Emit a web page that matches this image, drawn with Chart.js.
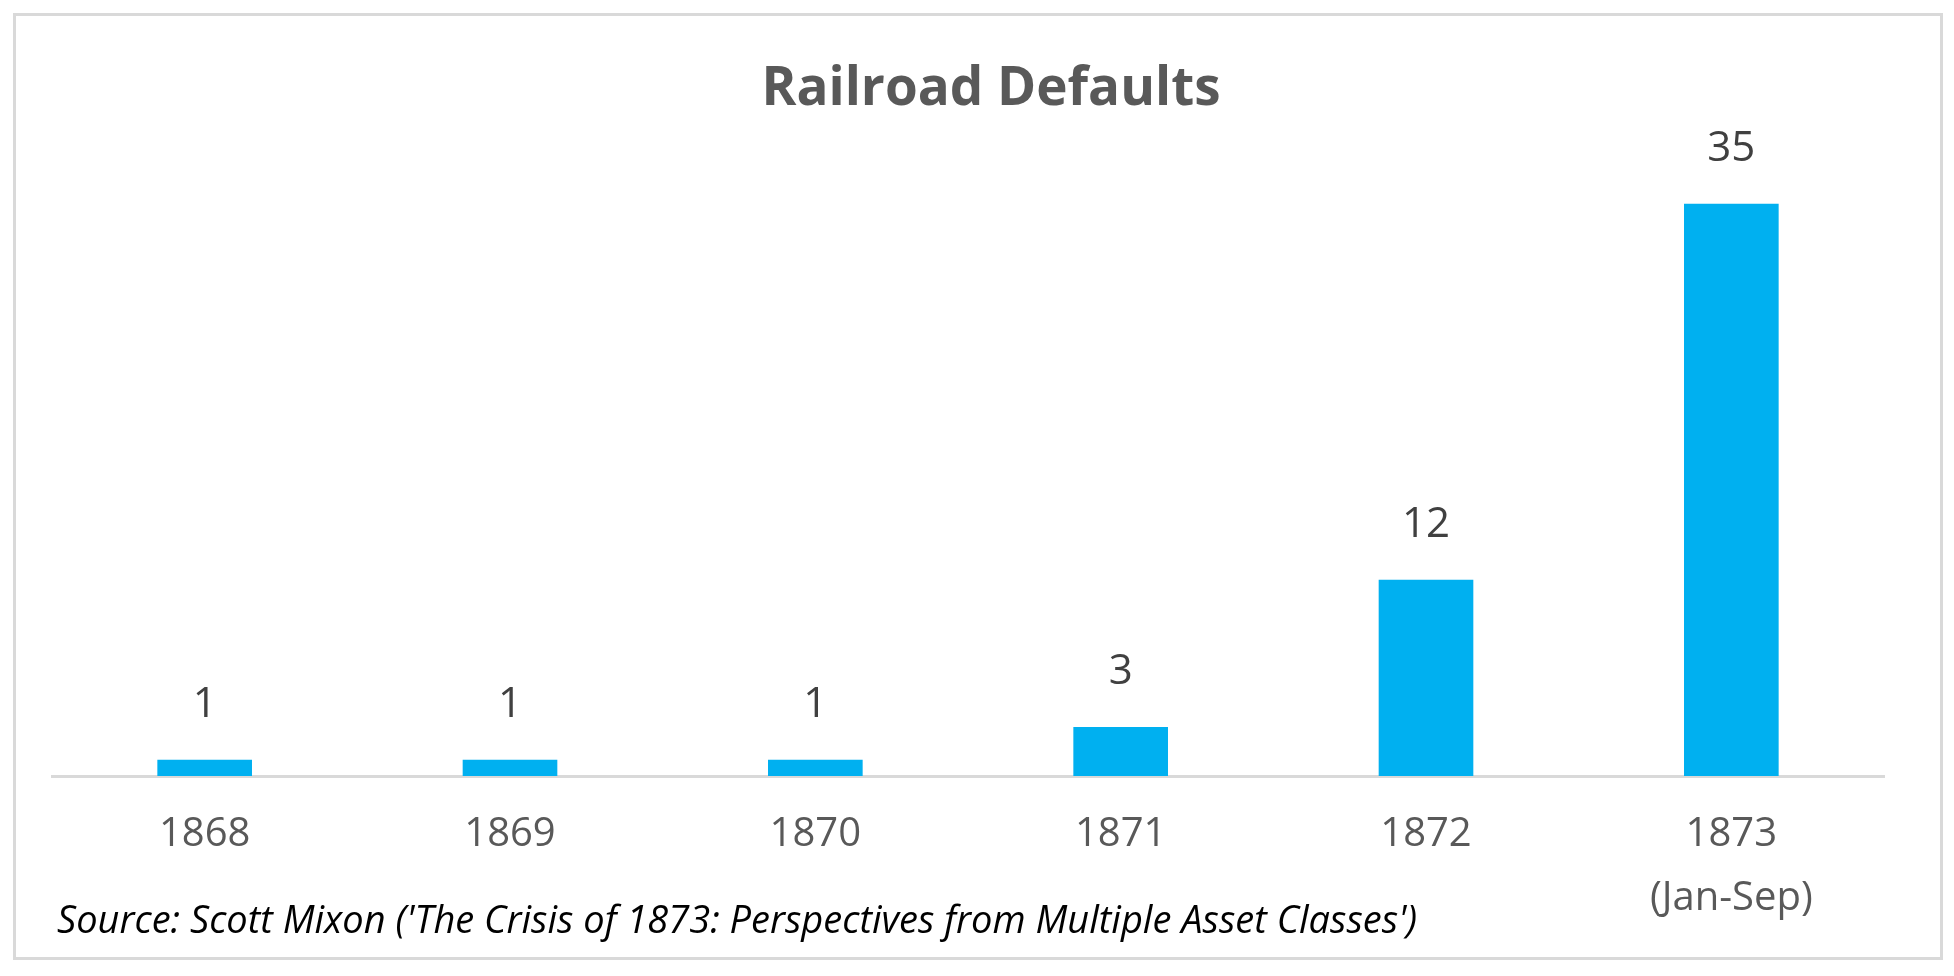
<!DOCTYPE html>
<html>
<head>
<meta charset="utf-8">
<script src="https://cdn.jsdelivr.net/npm/chart.js@4"></script>
<style>
  html, body { margin: 0; padding: 0; background: #fff; }
  #wrap { position: absolute; left: 0; top: 0; width: 1954px; height: 976px; }
  #frame { position: absolute; left: 13px; top: 13px; width: 1924px; height: 941px;
           border: 3px solid #d9d9d9; pointer-events: none; }
</style>
</head>
<body>
<div id="wrap"><canvas id="grafico"></canvas></div>
<div id="frame"></div>
<script>
// Datos
const anios = ["1868", "1869", "1870", "1871", "1872", ["1873", "(Jan-Sep)"]];
const impagos = [1, 1, 1, 3, 12, 35];
const titulo = "Railroad Defaults";
const fuente = "Source: Scott Mixon ('The Crisis of 1873: Perspectives from Multiple Asset Classes')";

// Etiquetas de valor encima de cada barra
const etiquetas = {
    id: "etiquetas",
    afterDatasetsDraw(chart) {
        const ctx = chart.ctx;
        const meta = chart.getDatasetMeta(0);
        ctx.save();
        ctx.font = "42px 'Open Sans'";
        ctx.fillStyle = "#404040";
        ctx.textAlign = "center";
        ctx.textBaseline = "middle";
        meta.data.forEach((bar, i) => {
            ctx.fillText(String(impagos[i]), bar.x, bar.y - 55);
        });
        ctx.restore();
    }
};

// Título y nota de la fuente
const textos = {
    id: "textos",
    afterDraw(chart) {
        const ctx = chart.ctx;
        ctx.save();
        ctx.textBaseline = "middle";
        ctx.font = "bold 53px 'Open Sans'";
        ctx.fillStyle = "#595959";
        ctx.textAlign = "center";
        ctx.fillText(titulo, 991, 90);
        ctx.font = "italic 38px 'Open Sans'";
        ctx.fillStyle = "#000";
        ctx.textAlign = "left";
        ctx.fillText(fuente, 57, 922);
        ctx.restore();
    }
};

new Chart(document.getElementById("grafico"), {
    type: "bar",
    data: {
        labels: anios,
        datasets: [{
            label: titulo,
            data: impagos,
            backgroundColor: "#00b0f0",
            barPercentage: 0.31,
            categoryPercentage: 1
        }]
    },
    options: {
        responsive: true,
        maintainAspectRatio: false,
        animation: false,
        layout: { padding: { left: 52, right: 70, top: 122, bottom: 18 } },
        plugins: {
            legend: { display: false },
            tooltip: { enabled: false },
            title: { display: false }
        },
        scales: {
            x: {
                grid: { display: false, drawTicks: false },
                border: { display: true, color: "#d9d9d9", width: 3 },
                ticks: {
                    color: "#595959",
                    font: { family: "'Open Sans'", size: 40, lineHeight: 1.6 },
                    padding: 27,
                    maxRotation: 0,
                    autoSkip: false
                }
            },
            y: {
                display: false,
                min: 0,
                max: 40
            }
        }
    },
    plugins: [etiquetas, textos]
});
</script>
</body>
</html>
